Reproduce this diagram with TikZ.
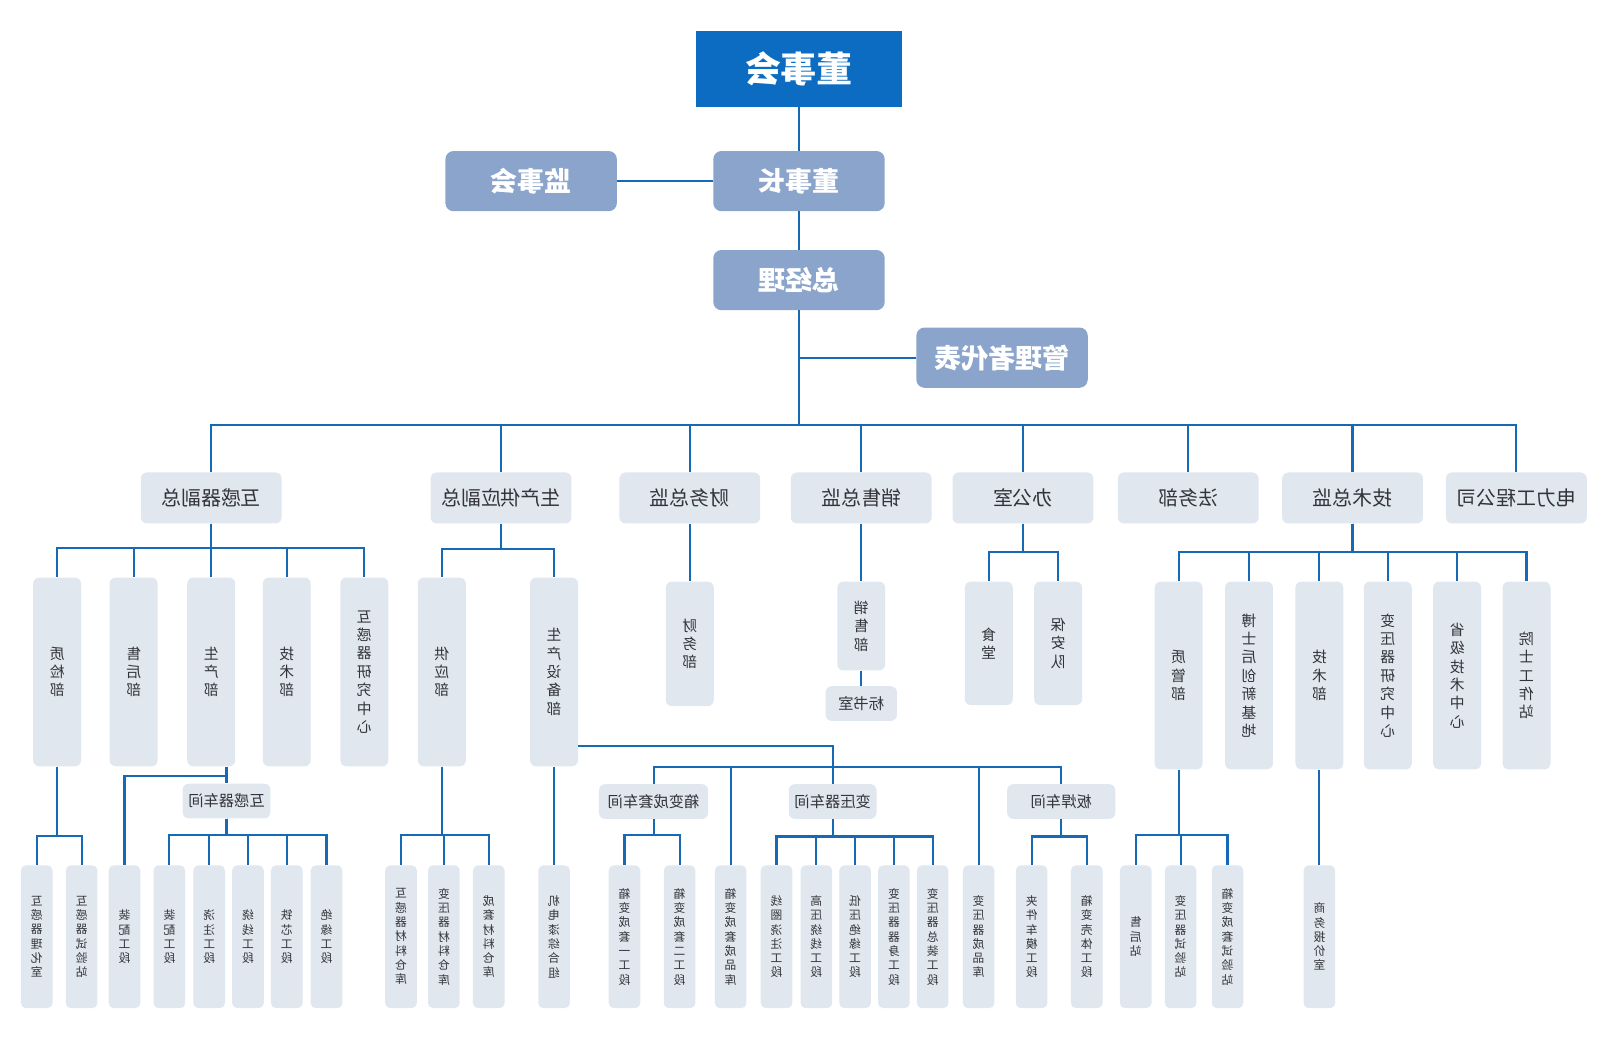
\documentclass[tikz,border=0pt]{standalone}
\usepackage{fontspec}
\setmainfont{Noto Sans CJK SC}
\usepackage{tikz}
\definecolor{deepblue}{RGB}{11,108,193}
\definecolor{midblue}{RGB}{138,164,203}
\definecolor{paleblue}{RGB}{225,231,239}
\definecolor{linkblue}{RGB}{22,105,180}
\definecolor{darktext}{RGB}{50,52,58}

\begin{document}
\begin{tikzpicture}[
    x=1pt,y=-1pt,
    box/.style={rectangle,rounded corners=6pt,fill=paleblue,text=darktext,inner sep=0pt,align=center,xscale=-1},
    head/.style={box,fill=midblue,text=white,rounded corners=8pt,minimum width=168pt,minimum height=59pt,font=\fontsize{26.5}{30}\selectfont\bfseries},
    dept/.style={box,minimum width=138pt,minimum height=50pt,font=\fontsize{19.5}{22}\selectfont},
    unit/.style={box,minimum width=47pt,font=\fontsize{14.5}{18}\selectfont},
    shop/.style={box,minimum height=34pt,font=\fontsize{15}{18}\selectfont},
    team/.style={box,rounded corners=5pt,minimum width=31pt,minimum height=140pt,font=\fontsize{11.5}{14}\selectfont},
    conn/.style={draw=linkblue,line width=2.1pt}
]
\useasboundingbox (0,0) rectangle (1568,1027);

% top
\node[box,fill=deepblue,rounded corners=0pt,text=white,minimum width=202pt,minimum height=75pt,font=\fontsize{35}{38}\selectfont\bfseries] (dsh) at (783,67.5) {董事会};
\node[head] (dsz) at (783,177.5) {董事长};
\node[head] (jsh) at (520.5,177.5) {监事会};
\node[head] (zjl) at (783,274.5) {总经理};
\node[head] (glz) at (982,350.5) {管理者代表};

% second row
\foreach \name/\x/\txt in {hgf/207/互感器副总,scf/491/生产供应副总,cwz/676/财务总监,xsz/844/销售总监,bgs/1002.5/办公室,fwb/1164.5/法务部,jsz/1325.5/技术总监,dlg/1486/电力工程公司}
    \node[dept] (\name) at (\x,488) {\txt};

% third row
\node[unit,minimum height=185pt] (zjb) at (56,658.5) {质\\检\\部};
\node[unit,minimum height=185pt] (shb) at (131,658.5) {售\\后\\部};
\node[unit,minimum height=185pt] (scb) at (207,658.5) {生\\产\\部};
\node[unit,minimum height=185pt] (jsb) at (281,658.5) {技\\术\\部};
\node[unit,minimum height=185pt] (hyz) at (357,658.5) {互\\感\\器\\研\\究\\中\\心};
\node[unit,minimum height=185pt] (gyb) at (433,658.5) {供\\应\\部};
\node[unit,minimum height=185pt] (sbb) at (543,658.5) {生\\产\\设\\备\\部};
\node[unit,minimum height=122pt] (cwb) at (676,631) {财\\务\\部};
\node[unit,minimum height=87pt] (xsb) at (844,613.5) {销\\售\\部};
\node[shop,minimum width=70pt] (bss) at (844,689.5) {标书室};
\node[unit,minimum height=121pt] (st) at (969,630.5) {食\\堂};
\node[unit,minimum height=121pt] (bad) at (1037,630.5) {保\\安\\队};
\node[unit,minimum height=184pt] (zgb) at (1155,662) {质\\管\\部};
\node[unit,minimum height=184pt] (bsh) at (1224,662) {博\\士\\后\\创\\新\\基\\地};
\node[unit,minimum height=184pt] (jsb2) at (1293,662) {技\\术\\部};
\node[unit,minimum height=184pt] (byy) at (1360,662) {变\\压\\器\\研\\究\\中\\心};
\node[unit,minimum height=184pt] (sjj) at (1428,662) {省\\级\\技\\术\\中\\心};
\node[unit,minimum height=184pt] (ysz) at (1496,662) {院\\士\\工\\作\\站};

% workshops
\node[shop,minimum width=86pt] (hgcj) at (222,785) {互感器车间};
\node[shop,minimum width=107pt] (xbcj) at (640.5,785.5) {箱变成套车间};
\node[shop,minimum width=86pt] (byqcj) at (816,785.5) {变压器车间};
\node[shop,minimum width=106pt] (bhcj) at (1040,785.5) {板焊车间};

% bottom row
\foreach \name/\x/\txt in {hgl/36/互\\感\\器\\理\\化\\室,hgs/80/互\\感\\器\\试\\验\\站,zp1/122/装\\配\\工\\段,
    zp2/166/装\\配\\工\\段,jz/205/浇\\注\\工\\段,rx/243/绕\\线\\工\\段,tx/281/铁\\芯\\工\\段,jy/320/绝\\缘\\工\\段,
    hck/393/互\\感\\器\\材\\料\\仓\\库,bck/435/变\\压\\器\\材\\料\\仓\\库,tck/479/成\\套\\材\\料\\仓\\库,
    jdz/543/机\\电\\漆\\综\\合\\组,xb1/612/箱\\变\\成\\套\\一\\工\\段,xb2/666/箱\\变\\成\\套\\二\\工\\段,
    xbk/716/箱\\变\\成\\套\\成\\品\\库,xq/761/线\\圈\\浇\\注\\工\\段,gy/800/高\\压\\绕\\线\\工\\段,
    dy/838/低\\压\\绝\\缘\\工\\段,qs/876/变\\压\\器\\器\\身\\工\\段,zz/914/变\\压\\器\\总\\装\\工\\段,
    byk/959/变\\压\\器\\成\\品\\库,jj/1011/夹\\件\\车\\模\\工\\段,kt/1065/箱\\变\\壳\\体\\工\\段,
    shz/1113/售\\后\\站,bsy/1157/变\\压\\器\\试\\验\\站,xsy/1203/箱\\变\\成\\套\\试\\验\\站,swb/1293/商\\务\\报\\价\\室}
    \node[team] (\name) at (\x,918) {\txt};

% connectors
\draw[conn] (dsh) -- (dsz);
\draw[conn] (jsh) -- (dsz);
\draw[conn] (dsz) -- (zjl);
\draw[conn] (zjl.south |- glz) -- (glz);
\foreach \n in {hgf,scf,cwz,xsz,bgs,fwb,jsz,dlg}
    \draw[conn] (zjl.south) -- ++(0,112) -| (\n.north);
\foreach \n in {zjb,shb,scb,jsb,hyz}
    \draw[conn] (hgf.south) -- ++(0,24) -| (\n.north);
\foreach \n in {gyb,sbb}
    \draw[conn] (scf.south) -- ++(0,25) -| (\n.north);
\draw[conn] (cwz) -- (cwb);
\draw[conn] (xsz) -- (xsb);
\draw[conn] (xsb) -- (bss);
\foreach \n in {st,bad}
    \draw[conn] (bgs.south) -- ++(0,28) -| (\n.north);
\foreach \n in {zgb,bsh,jsb2,byy,sjj,ysz}
    \draw[conn] (jsz.south) -- ++(0,28) -| (\n.north);

\foreach \n in {hgl,hgs}
    \draw[conn] (zjb.south) -- ++(0,68) -| (\n.north);
\draw[conn] (scb.south -| hgcj) -- (hgcj);
\draw[conn] ([yshift=7pt]hgcj.north) -| (zp1.north);
\foreach \n in {zp2,jz,rx,tx,jy}
    \draw[conn] (hgcj.south) -- ++(0,16) -| (\n.north);
\foreach \n in {hck,bck,tck}
    \draw[conn] (gyb.south) -- ++(0,67) -| (\n.north);
\draw[conn] (sbb) -- (jdz);
\draw[conn] (sbb.west |- 0,731) -| (byqcj.north); % west is the right side (flipped)
\draw[conn] (xbcj.north) -- ++(0,-17) -| (bhcj.north);
\foreach \n in {xbk,byk}
    \draw[conn] (\n.north |- 0,752) -- (\n.north);
\foreach \n in {xb1,xb2}
    \draw[conn] (xbcj.south) -- ++(0,16) -| (\n.north);
\foreach \n in {xq,gy,dy,qs,zz}
    \draw[conn] (byqcj.south) -- ++(0,17) -| (\n.north);
\foreach \n in {jj,kt}
    \draw[conn] (bhcj.south) -- ++(0,17) -| (\n.north);
\foreach \n in {shz,bsy,xsy}
    \draw[conn] (zgb.south) -- ++(0,64) -| (\n.north);
\draw[conn] (jsb2) -- (swb);
\end{tikzpicture}
\end{document}
